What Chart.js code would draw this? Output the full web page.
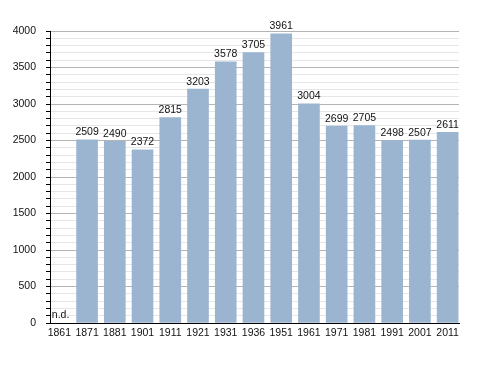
<!DOCTYPE html>
<html><head><meta charset="utf-8">
<script src="https://cdn.jsdelivr.net/npm/chart.js@4"></script>
<style>html,body{margin:0;padding:0;background:#fff}canvas{display:block}</style>
</head><body>
<canvas id="c" width="488" height="373"></canvas>
<script>
const years = ["1861","1871","1881","1901","1911","1921","1931","1936","1951","1961","1971","1981","1991","2001","2011"];
const population = [null,2509,2490,2372,2815,3203,3578,3705,3961,3004,2699,2705,2498,2507,2611];
const missingLabel = "n.d.";

const FONT = "'Liberation Sans', Arial, sans-serif";
const FS = 10.5;

const labelPlugin = {
  id: 'labels',
  afterDatasetsDraw(chart) {
    const ctx = chart.ctx;
    const meta = chart.getDatasetMeta(0);
    const y0 = chart.scales.y.getPixelForValue(0);
    ctx.save();
    ctx.font = FS + "px " + FONT;
    ctx.fillStyle = "#111";
    ctx.textBaseline = "bottom";
    population.forEach((v, i) => {
      if (v == null) {
        ctx.textAlign = "left";
        ctx.fillText(missingLabel, chart.scales.x.getPixelForValue(i) - 7.5, y0 - 3);
      } else {
        const bar = meta.data[i];
        ctx.textAlign = "center";
        ctx.fillText(String(v), bar.x, bar.y - 2);
      }
    });
    ctx.restore();
  }
};

new Chart(document.getElementById('c'), {
  type: 'bar',
  data: {
    datasets: [{
      data: population.map((v, i) => ({ x: i, y: v })),
      backgroundColor: '#9bb5d1',
      borderWidth: 0,
      barThickness: 21
    }]
  },
  options: {
    responsive: false,
    animation: false,
    devicePixelRatio: 1,
    layout: { padding: { left: 0, right: 29, top: 31, bottom: 0 } },
    plugins: { legend: { display: false }, tooltip: { enabled: false } },
    scales: {
      x: {
        type: 'linear',
        min: -0.336,
        max: 14.41,
        offset: false,
        afterFit(s) { s.height = 50; },
        afterBuildTicks(s) { s.ticks = years.map((_, i) => ({ value: i })); },
        grid: { display: false, drawTicks: false },
        border: { color: '#000', width: 1 },
        ticks: {
          color: '#111', font: { family: FONT, size: FS }, padding: 4,
          maxRotation: 0, autoSkip: false,
          callback: v => years[v] || ''
        }
      },
      y: {
        min: 0, max: 4000,
        afterFit(s) { s.width = 50; },
        border: { color: '#000', width: 1 },
        grid: {
          color: ctx => (ctx.tick && ctx.tick.value % 500 === 0) ? '#b4b4b4' : '#e6e6e6',
          tickColor: '#000',
          tickLength: 4,
          drawOnChartArea: true
        },
        ticks: {
          stepSize: 100,
          autoSkip: false,
          color: '#111',
          font: { family: FONT, size: FS },
          padding: 10,
          callback: v => (v % 500 === 0) ? String(v) : ''
        }
      }
    }
  },
  plugins: [labelPlugin]
});
</script>
</body></html>
